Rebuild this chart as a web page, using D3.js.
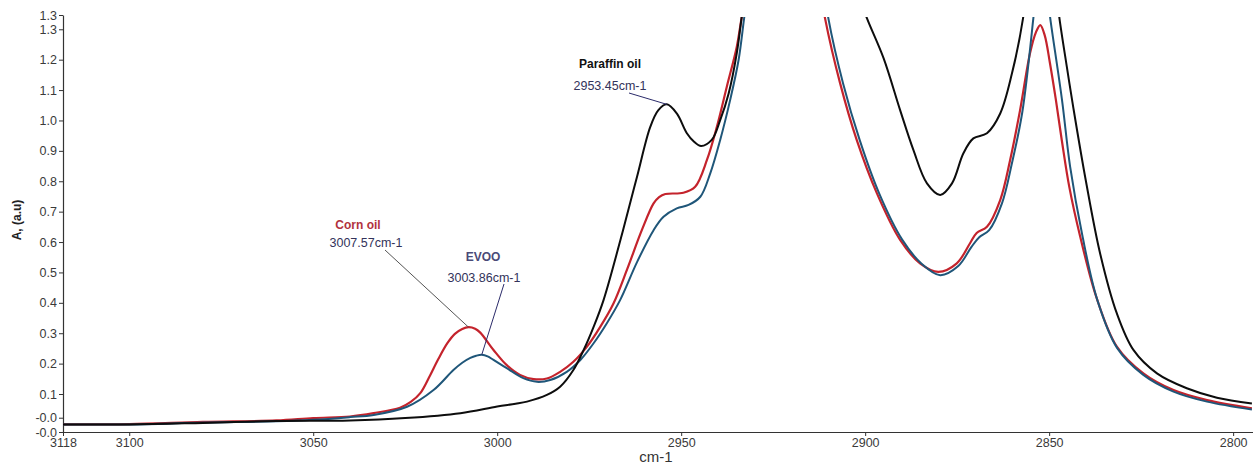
<!DOCTYPE html>
<html>
<head>
<meta charset="utf-8">
<script src="https://cdn.jsdelivr.net/npm/d3@7"></script>
<style>
  html, body { margin: 0; padding: 0; background: #fff; }
  svg { display: block; }
  text { font-family: "Liberation Sans", Arial, sans-serif; }
</style>
</head>
<body>
<script>
// ---------- data ----------
const xTickValues = [3118, 3100, 3050, 3000, 2950, 2900, 2850, 2800];
const yTickValues = [1.347, 1.3, 1.2, 1.1, 1.0, 0.9, 0.8, 0.7, 0.6, 0.5, 0.4, 0.3, 0.2, 0.1, 0.022, -0.025];
const yTickLabels = ["1.3", "1.3", "1.2", "1.1", "1.0", "0.9", "0.8", "0.7", "0.6", "0.5", "0.4", "0.3", "0.2", "0.1", "-0.0", "-0.0"];

const paraffinWn = [3118, 3100, 3080, 3060, 3040, 3025, 3010, 3000, 2995, 2991.9, 2986.5, 2982.9, 2979.3, 2976.5, 2973.8, 2971.1, 2965.8, 2962.0, 2958.4, 2956.2, 2953.9, 2951.2, 2948.5, 2946.5, 2944.6, 2941.7, 2939.4, 2937.1, 2934.9, 2933.6, 2932.6, 2916.6, 2902.0, 2899.5, 2895.0, 2890.5, 2886.9, 2883.2, 2879.6, 2876.4, 2873.3, 2870.6, 2866.9, 2863.3, 2860.1, 2857.1, 2856.5, 2852.2, 2847.8, 2847.2, 2845.2, 2843.4, 2840.0, 2836.1, 2831.6, 2827.1, 2820.7, 2812.6, 2804.4, 2794.9];
const paraffinAbs = [0.000, 0.000, 0.005, 0.011, 0.013, 0.021, 0.037, 0.059, 0.068, 0.075, 0.097, 0.124, 0.179, 0.245, 0.321, 0.409, 0.639, 0.815, 0.979, 1.034, 1.053, 1.023, 0.959, 0.930, 0.916, 0.936, 1.001, 1.089, 1.221, 1.336, 1.42, 3.5, 1.42, 1.336, 1.205, 1.034, 0.903, 0.793, 0.755, 0.793, 0.892, 0.941, 0.958, 1.023, 1.155, 1.336, 1.40, 2.0, 1.40, 1.336, 1.177, 1.04, 0.80, 0.56, 0.365, 0.245, 0.168, 0.119, 0.088, 0.069];

const cornWn = [3118, 3100, 3080, 3060, 3050, 3040, 3033.6, 3026.4, 3023.5, 3020.9, 3018.5, 3016.0, 3013.5, 3011.5, 3009.5, 3007.8, 3006.0, 3004.6, 3001.0, 2997.4, 2993.8, 2990.1, 2986.5, 2982.9, 2979.3, 2975.6, 2972.0, 2968.4, 2964.7, 2960.7, 2957.5, 2956.0, 2954.3, 2949.4, 2946.2, 2943.0, 2940.3, 2937.6, 2934.9, 2933.6, 2932.9, 2922.3, 2911.7, 2910.9, 2906.8, 2902.3, 2896.8, 2890.5, 2885.1, 2880.1, 2875.1, 2871.5, 2869.7, 2866.9, 2863.3, 2860.6, 2857.9, 2855.2, 2853.6, 2852.4, 2851.2, 2849.8, 2848.2, 2846.5, 2844.5, 2841.6, 2837.1, 2831.6, 2824.4, 2816.2, 2807.1, 2794.9];
const cornAbs = [0.000, 0.001, 0.008, 0.013, 0.021, 0.026, 0.037, 0.055, 0.074, 0.103, 0.155, 0.215, 0.268, 0.298, 0.314, 0.320, 0.315, 0.302, 0.245, 0.195, 0.163, 0.149, 0.151, 0.173, 0.206, 0.256, 0.321, 0.398, 0.51, 0.639, 0.727, 0.748, 0.758, 0.762, 0.782, 0.870, 0.979, 1.111, 1.242, 1.336, 1.38, 2.8, 1.395, 1.336, 1.122, 0.936, 0.760, 0.607, 0.530, 0.502, 0.530, 0.596, 0.630, 0.650, 0.738, 0.870, 1.034, 1.221, 1.29, 1.314, 1.28, 1.19, 1.07, 0.93, 0.78, 0.62, 0.416, 0.256, 0.168, 0.113, 0.080, 0.053];

const evooWn = [3118, 3100, 3080, 3060, 3050, 3040, 3033.6, 3024.5, 3017.3, 3011.9, 3009.5, 3007.3, 3005.7, 3004.2, 3002.6, 3001.0, 2997.4, 2992.9, 2989.2, 2985.6, 2981.1, 2977.4, 2973.8, 2970.2, 2966.6, 2962.0, 2957.5, 2954.8, 2951.2, 2948.0, 2944.8, 2942.1, 2939.4, 2936.7, 2934.4, 2932.9, 2932.2, 2921.5, 2910.7, 2910.0, 2906.0, 2901.5, 2896.2, 2889.9, 2884.6, 2879.6, 2874.7, 2871.1, 2869.0, 2866.3, 2862.8, 2860.1, 2857.3, 2854.3, 2853.8, 2852.0, 2850.3, 2849.7, 2846.5, 2844.3, 2841.0, 2836.9, 2831.5, 2824.4, 2816.2, 2807.1, 2794.9];
const evooAbs = [0.000, 0.000, 0.006, 0.010, 0.015, 0.024, 0.031, 0.058, 0.113, 0.179, 0.203, 0.219, 0.226, 0.229, 0.224, 0.212, 0.185, 0.152, 0.140, 0.146, 0.173, 0.212, 0.267, 0.333, 0.409, 0.534, 0.639, 0.683, 0.711, 0.722, 0.749, 0.826, 0.936, 1.067, 1.199, 1.336, 1.396, 2.6, 1.396, 1.336, 1.122, 0.936, 0.760, 0.607, 0.528, 0.491, 0.521, 0.584, 0.616, 0.639, 0.728, 0.860, 1.027, 1.336, 1.396, 1.45, 1.396, 1.336, 1.067, 0.848, 0.623, 0.409, 0.251, 0.163, 0.108, 0.075, 0.049];

const annotationNames = ["Corn oil", "EVOO", "Paraffin oil"];
const annotationValues = ["3007.57cm-1", "3003.86cm-1", "2953.45cm-1"];
const annotationPeakWn = [3007.8, 3004.2, 2953.9];
const annotationPeakAbs = [0.320, 0.229, 1.053];

// ---------- layout ----------
const W = 1253, H = 465;
const svg = d3.select("body").append("svg").attr("width", W).attr("height", H);

const x = d3.scaleLinear().domain([3118, 2794.6]).range([63, 1253]);
const y = d3.scaleLinear().domain([-0.025, 1.347]).range([432, 15]);

svg.append("defs").append("clipPath").attr("id", "plotclip")
  .append("rect").attr("x", 63).attr("y", 17).attr("width", 1253 - 63).attr("height", 432 - 17);

// axes
const yAxis = d3.axisLeft(y).tickValues(yTickValues)
  .tickFormat((d, i) => yTickLabels[i]).tickSize(4).tickSizeOuter(0).tickPadding(2);
const gy = svg.append("g").attr("transform", "translate(63,0)").call(yAxis);

const xAxis = d3.axisBottom(x).tickValues(xTickValues)
  .tickFormat(d3.format("d")).tickSize(4).tickSizeOuter(0).tickPadding(2);
const gx = svg.append("g").attr("transform", "translate(0,432)").call(xAxis);

[gx, gy].forEach(g => {
  g.select(".domain").attr("stroke", "#333").attr("stroke-width", 1.2);
  g.selectAll(".tick line").attr("stroke", "#333");
  g.selectAll(".tick text").attr("fill", "#3a3a3a").style("font-size", "12.5px")
    .style("font-family", "'Liberation Sans', Arial, sans-serif");
});

// axis titles
svg.append("text")
  .attr("transform", "translate(21,220) rotate(-90)")
  .attr("text-anchor", "middle")
  .style("font-size", "12px").style("font-weight", "bold").attr("fill", "#222")
  .text("A, (a.u)");

svg.append("text")
  .attr("x", 656).attr("y", 462)
  .attr("text-anchor", "middle")
  .style("font-size", "15px").attr("fill", "#333")
  .text("cm-1");

// curves
const line = d3.line()
  .x(d => x(d[0])).y(d => y(d[1]))
  .curve(d3.curveCatmullRom.alpha(0.5));

function pts(wn, ab) { return wn.map((w, i) => [w, ab[i]]).sort((a, b) => x(a[0]) - x(b[0])); }

const series = [
  { wn: cornWn, ab: cornAbs, color: "#c4232c", width: 2.2 },
  { wn: evooWn, ab: evooAbs, color: "#1f5679", width: 2.0 },
  { wn: paraffinWn, ab: paraffinAbs, color: "#0d0d0d", width: 2.0 }
];

const gLines = svg.append("g").attr("clip-path", "url(#plotclip)");
series.forEach(s => {
  gLines.append("path")
    .datum(pts(s.wn, s.ab))
    .attr("fill", "none")
    .attr("stroke", s.color)
    .attr("stroke-width", s.width)
    .attr("stroke-linejoin", "round")
    .attr("d", line);
});

// annotations: label pixel positions; leader lines end at the peak via the scales
const annLayout = [
  { nameX: 358, nameY: 229, valX: 366, valY: 247, lineX: 385, lineY: 250, nameColor: "#b2323d", lineColor: "#555" },
  { nameX: 483, nameY: 261, valX: 484, valY: 282, lineX: 504, lineY: 284, nameColor: "#4a4a78", lineColor: "#2b2b6a" },
  { nameX: 610, nameY: 68, valX: 610, valY: 90, lineX: 629, lineY: 93, nameColor: "#111", lineColor: "#2b2b6a" }
];

annotationNames.forEach((name, i) => {
  const ax = x(annotationPeakWn[i]), ay = y(annotationPeakAbs[i]);
  const L = annLayout[i];
  svg.append("line")
    .attr("x1", L.lineX).attr("y1", L.lineY)
    .attr("x2", ax).attr("y2", ay)
    .attr("stroke", L.lineColor).attr("stroke-width", 1);
  svg.append("text")
    .attr("x", L.nameX).attr("y", L.nameY)
    .attr("text-anchor", "middle")
    .style("font-size", "12px").style("font-weight", "bold")
    .attr("fill", L.nameColor)
    .text(name);
  svg.append("text")
    .attr("x", L.valX).attr("y", L.valY)
    .attr("text-anchor", "middle")
    .style("font-size", "12.5px")
    .attr("fill", "#33335a")
    .text(annotationValues[i]);
});
</script>
</body>
</html>
